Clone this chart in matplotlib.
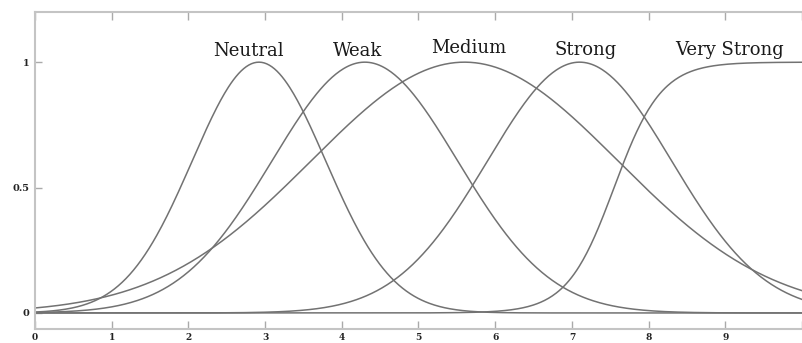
import numpy as np
import matplotlib
matplotlib.use('Agg')
import matplotlib.pyplot as plt

# membership functions
labels = ['Neutral', 'Weak', 'Medium', 'Strong']
centers = [2.92, 4.30, 5.60, 7.10]
widths = [0.87, 1.21, 2.00, 1.20]
# "Very Strong" is an s-shaped curve
vs_mid = 7.55
vs_slope = 3.25

label_names = ['Neutral', 'Weak', 'Medium', 'Strong', 'Very Strong']
label_x = [2.78, 4.20, 5.66, 7.18, 9.05]
label_y = [1.045, 1.045, 1.057, 1.050, 1.050]

x_ticks = [0, 1, 2, 3, 4, 5, 6, 7, 8, 9, 10]
x_tick_labels = ['0', '1', '2', '3', '4', '5', '6', '7', '8', '9', '']
y_ticks = [0, 0.5, 1]
y_tick_labels = ['0', '0.5', '1']

fig = plt.figure(figsize=(8.03, 3.43), dpi=100)
ax = fig.add_axes([35 / 803, 14 / 343, 767 / 803, 317 / 343])

xs = np.linspace(0, 10, 600)
line_color = '#727272'
for c, w in zip(centers, widths):
    ax.plot(xs, np.exp(-(xs - c) ** 2 / (2 * w ** 2)), color=line_color, lw=1.1)
ax.plot(xs, 1 / (1 + np.exp(-vs_slope * (xs - vs_mid))), color=line_color, lw=1.1)

for name, lx, ly in zip(label_names, label_x, label_y):
    ax.text(lx, ly, name, ha='center', va='center', fontsize=13,
            family='DejaVu Serif', color='#1a1a1a')

ax.set_xlim(0, 10)
ax.set_ylim(-0.064, 1.2)
ax.set_xticks(x_ticks)
ax.set_xticklabels(x_tick_labels, fontsize=6.5, family='DejaVu Serif',
                   fontweight='bold', color='#222222')
ax.set_yticks(y_ticks)
ax.set_yticklabels(y_tick_labels, fontsize=7, family='DejaVu Serif',
                   fontweight='bold', color='#222222')
ax.tick_params(axis='x', direction='in', length=6, width=1, color='#aaaaaa',
               top=True, pad=3)
ax.tick_params(axis='y', direction='in', length=5, width=1, color='#aaaaaa', pad=4)
for side in ['left', 'top', 'bottom']:
    ax.spines[side].set_color('#c4c4c4')
    ax.spines[side].set_linewidth(1.5)
ax.spines['right'].set_visible(False)

fig.savefig('out.png', dpi=100)
